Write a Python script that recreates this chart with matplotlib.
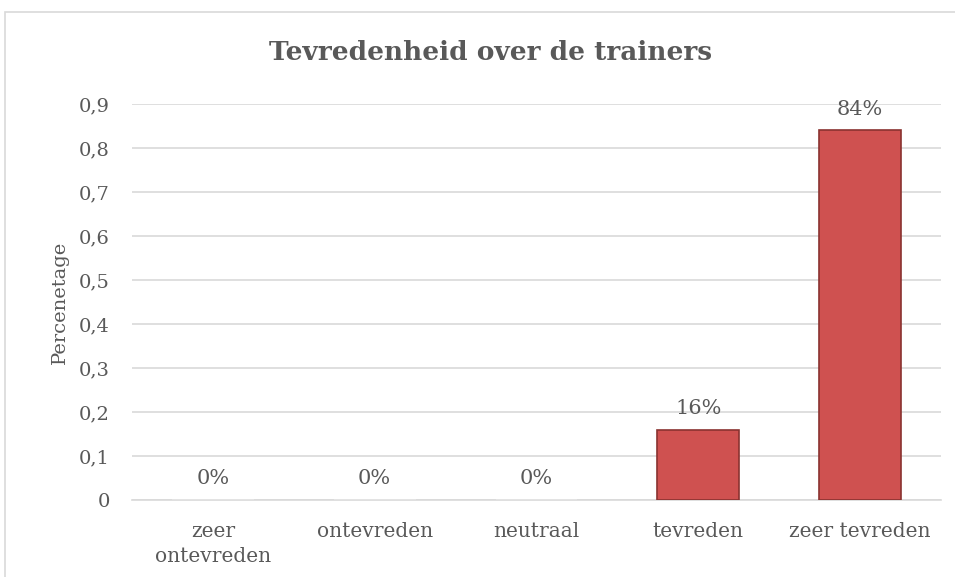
import numpy as np
import matplotlib.pyplot as plt
from matplotlib.patches import Rectangle

categories = ['zeer\nontevreden', 'ontevreden', 'neutraal', 'tevreden', 'zeer tevreden']
values = [0.0, 0.0, 0.0, 0.16, 0.84]
labels = ['0%', '0%', '0%', '16%', '84%']
y_ticks = [0, 0.1, 0.2, 0.3, 0.4, 0.5, 0.6, 0.7, 0.8, 0.9]

plt.rcParams['font.family'] = ['DejaVu Serif']
text_color = '#595959'

fig = plt.figure(figsize=(9.55, 5.77), dpi=100)
ax = fig.add_axes([0.1382, 0.1334, 0.8471, 0.6863])

# chart frame
fig.patches.append(Rectangle((5 / 955, -0.1), 1.1, 1 - 12 / 577 + 0.1,
                             transform=fig.transFigure, fill=False,
                             edgecolor='#d9d9d9', linewidth=1.2))

x = np.arange(len(categories))
edges = ['#8a3230' if v > 0 else '#e6e6e6' for v in values]
ax.bar(x, values, width=0.506, color='#cf5150', edgecolor=edges,
       linewidth=1.2, zorder=3)

for xi, v, lab in zip(x, values, labels):
    ax.text(xi, v + 0.036, lab, ha='center', va='baseline', fontsize=15,
            color=text_color, zorder=4)

ax.set_xlim(-0.5, len(categories) - 0.5)
ax.set_ylim(0, 0.9)
ax.set_yticks(y_ticks)
ax.set_yticklabels([f'{t:.1f}'.replace('.', ',') if t else '0' for t in y_ticks])
ax.set_xticks(x)
ax.set_xticklabels(categories, linespacing=1.4)
ax.tick_params(axis='both', length=0, colors=text_color)
ax.tick_params(axis='x', pad=16, labelsize=14.5)
ax.tick_params(axis='y', pad=16, labelsize=14)
ax.grid(axis='y', color='#d9d9d9', linewidth=1.2, zorder=0)
for side in ['top', 'right', 'left']:
    ax.spines[side].set_visible(False)
ax.spines['bottom'].set_color('#d9d9d9')
ax.spines['bottom'].set_linewidth(1.2)

ax.set_ylabel('Percenetage', fontsize=14, color=text_color, labelpad=7)
fig.text(491 / 955, 1 - 53 / 577, 'Tevredenheid over de trainers', ha='center',
         va='center', fontsize=19, fontweight='bold', color=text_color)

fig.savefig('out.png', dpi=100)
